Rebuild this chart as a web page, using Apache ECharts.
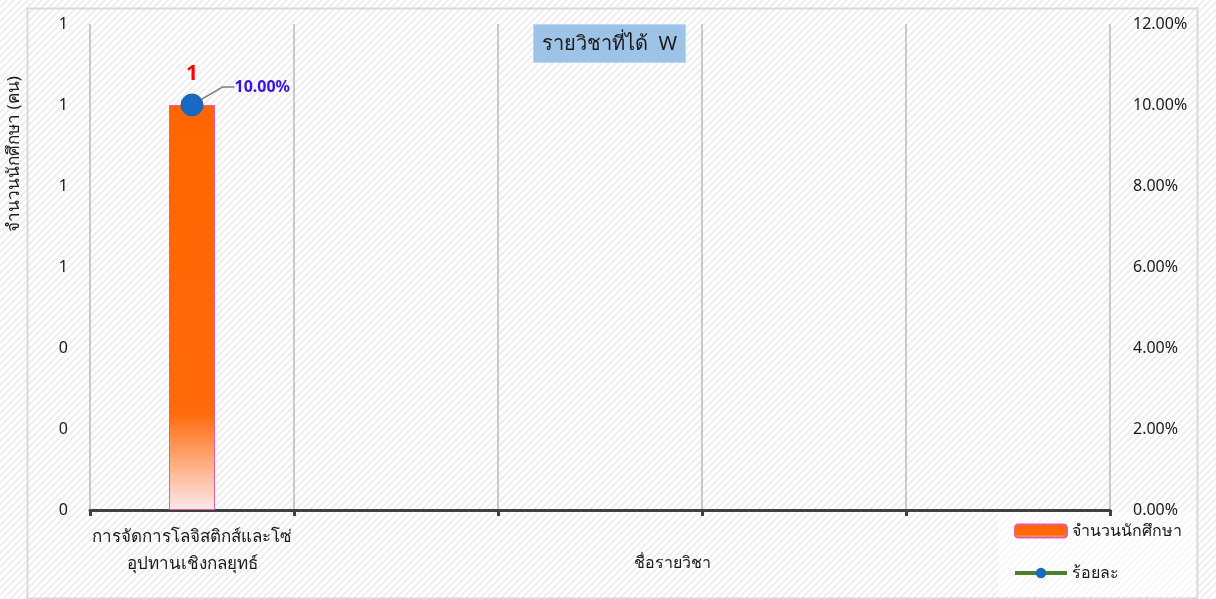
<!DOCTYPE html>
<html>
<head>
<meta charset="utf-8">
<script src="https://cdn.jsdelivr.net/npm/echarts@6/dist/echarts.min.js"></script>
<style>
html,body{margin:0;padding:0;background:#fff;}
#chart{width:1216px;height:599px;}
</style>
</head>
<body>
<div id="chart"></div>
<script>
const categories = ['การจัดการโลจิสติกส์และโซ่\nอุปทานเชิงกลยุทธ์', ' ', '  ', '   ', '    '];
const studentCounts = [1, null, null, null, null];
const percentValues = [10, null, null, null, null];
const leftTicks = { min: 0, max: 1.2, interval: 0.2 };
const rightTicks = { min: 0, max: 12, interval: 2 };
const titleText = 'รายวิชาที่ได้  W';
const yAxisName = 'จำนวนนักศึกษา (คน)';
const xAxisName = 'ชื่อรายวิชา';
const seriesNames = ['จำนวนนักศึกษา', 'ร้อยละ'];

const FONT = '"Noto Sans", "Open Sans", sans-serif';

// hatch pattern
const pc = document.createElement('canvas');
pc.width = 7; pc.height = 7;
const pctx = pc.getContext('2d');
pctx.fillStyle = '#ffffff';
pctx.fillRect(0, 0, 7, 7);
pctx.strokeStyle = '#ececec';
pctx.lineWidth = 1.6;
pctx.beginPath();
pctx.moveTo(-1, 8); pctx.lineTo(8, -1);
pctx.moveTo(-1, 1); pctx.lineTo(1, -1);
pctx.moveTo(6, 8); pctx.lineTo(8, 6);
pctx.stroke();

const chart = echarts.init(document.getElementById('chart'));
chart.setOption({
  backgroundColor: { image: pc, repeat: 'repeat' },
  animation: false,
  textStyle: { fontFamily: FONT },
  title: {
    text: titleText,
    left: 533, top: 24,
    backgroundColor: '#9dc3e6',
    borderColor: '#bdd7ee', borderWidth: 1,
    padding: [10, 9, 9, 9],
    textStyle: { fontSize: 20, fontWeight: 'normal', color: '#1a1a1a', fontFamily: FONT }
  },
  graphic: [
    { type: 'rect', left: 25, top: 6, shape: { width: 1170, height: 590 }, style: { fill: null, stroke: '#d9d9d9', lineWidth: 2 }, silent: true, z: -1 },
    { type: 'rect', left: 998, top: 512, shape: { width: 197, height: 84 }, style: { fill: 'rgba(255,255,255,0.55)' }, silent: true, z: -1 },
    { type: 'text', x: 14, y: 154, rotation: Math.PI / 2, style: { text: yAxisName, fontSize: 17, fill: '#1a1a1a', fontFamily: FONT, align: 'center', verticalAlign: 'middle' } },
    { type: 'text', x: 672, y: 563, style: { text: xAxisName, fontSize: 16, fill: '#1a1a1a', fontFamily: FONT, align: 'center', verticalAlign: 'middle' } }
  ],
  legend: {
    orient: 'vertical',
    left: 1008, top: 518,
    itemWidth: 52, itemHeight: 13,
    itemGap: 26,
    textStyle: { fontSize: 16, color: '#1a1a1a', fontFamily: FONT },
    data: [
      { name: seriesNames[0] },
      { name: seriesNames[1], lineStyle: { width: 4, color: '#4f7f2c' }, itemStyle: { borderWidth: 0 } }
    ]
  },
  grid: { left: 90, right: 106, top: 24, bottom: 89 },
  xAxis: {
    type: 'category',
    data: categories,
    boundaryGap: true,
    axisLine: { show: true, lineStyle: { color: '#404040', width: 3 } },
    axisTick: { show: true, length: 6, lineStyle: { color: '#404040', width: 3 } },
    axisLabel: { fontSize: 17, color: '#1a1a1a', lineHeight: 27, margin: 14, interval: 0, fontFamily: FONT },
    splitLine: { show: true, lineStyle: { color: '#b8b8b8', width: 1.5 } }
  },
  yAxis: [
    {
      type: 'value', min: leftTicks.min, max: leftTicks.max, interval: leftTicks.interval,
      axisLine: { show: false }, axisTick: { show: false }, splitLine: { show: false },
      axisLabel: { fontSize: 16, color: '#1a1a1a', margin: 22, fontFamily: FONT, formatter: v => String(Math.round(v)) }
    },
    {
      type: 'value', min: rightTicks.min, max: rightTicks.max, interval: rightTicks.interval,
      axisLine: { show: false }, axisTick: { show: false }, splitLine: { show: false },
      axisLabel: { fontSize: 16, color: '#1a1a1a', margin: 23, fontFamily: FONT, formatter: v => v.toFixed(2) + '%' }
    }
  ],
  series: [
    {
      name: seriesNames[0],
      type: 'bar',
      yAxisIndex: 0,
      data: studentCounts,
      barWidth: 46,
      itemStyle: {
        color: new echarts.graphic.LinearGradient(0, 0, 0, 1, [
          { offset: 0, color: '#ff6600' },
          { offset: 0.76, color: '#ff6a0a' },
          { offset: 1, color: '#fde9ec' }
        ]),
        borderColor: '#ea5b9a', borderWidth: 1
      },
      label: { show: true, position: 'top', distance: 20, color: '#ff0000', fontSize: 21, fontWeight: 'bold', fontFamily: FONT }
    },
    {
      name: seriesNames[1],
      type: 'line',
      yAxisIndex: 1,
      data: percentValues,
      symbol: 'circle',
      symbolSize: 22,
      itemStyle: { color: '#1769c2', borderColor: '#2a5fa0', borderWidth: 1 },
      lineStyle: { color: '#4f7f2c', width: 3 },
      label: {
        show: true, position: 'right', distance: 10,
        color: '#3b0fe6', fontSize: 16, fontWeight: 'bold', fontFamily: FONT,
        formatter: p => p.value.toFixed(2) + '%'
      },
      labelLayout: { dx: 21, dy: -18 },
      labelLine: { show: true, length: 16, length2: 12, lineStyle: { color: '#7f7f7f', width: 1.5 } },
      z: 5
    }
  ]
});
</script>
</body>
</html>
